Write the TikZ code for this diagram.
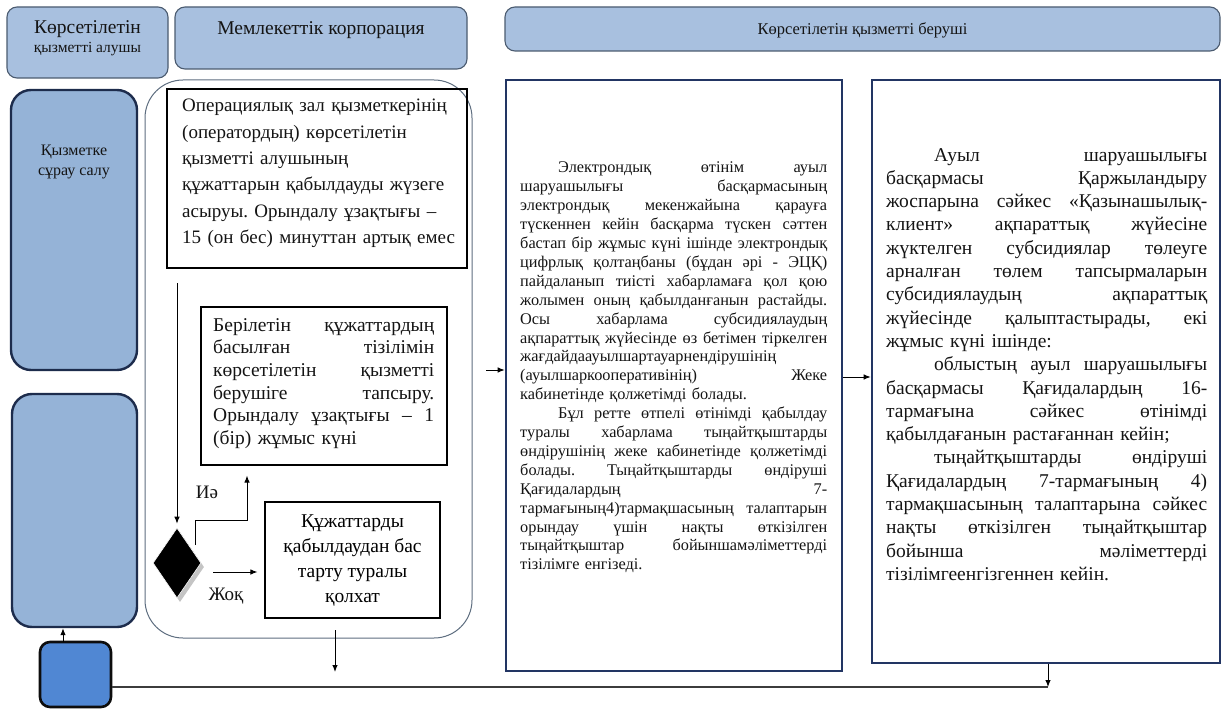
\documentclass[tikz,border=0pt]{standalone}
\usepackage{fontspec}
\setmainfont{Liberation Serif}
\usetikzlibrary{arrows.meta,calc,shapes.geometric}
\definecolor{hdrfill}{HTML}{A8C0DF}
\definecolor{hdrline}{HTML}{4B5B70}
\definecolor{lanefill}{HTML}{95B3D7}
\definecolor{laneline}{HTML}{1D2C4C}
\definecolor{sbfill}{HTML}{5087D3}
\definecolor{navy}{HTML}{223563}
\definecolor{contline}{HTML}{5E6E80}
\definecolor{shade}{HTML}{C4C4C4}
\definecolor{busline}{HTML}{3C3C3C}
\newcommand{\setfs}[2]{\fontsize{#1}{#2}\selectfont\parindent=0pt\frenchspacing\relax}
\newcommand{\jl}[2]{\noindent\hbox to #1{\spaceskip=0.25em plus 1fil minus 0.05em\relax #2}\par}
\newcommand{\jB}[1]{\jl{221pt}{#1}}
\newcommand{\jD}[1]{\jl{307pt}{#1}}
\newcommand{\jE}[1]{\jl{321pt}{#1}}
\newcommand{\pl}[1]{\noindent\hbox{#1}\par}
\tikzset{
  hdr/.style={draw=hdrline, fill=hdrfill, line width=1.1pt, rounded corners=10pt, inner sep=0pt},
  lanebox/.style={draw=laneline, fill=lanefill, line width=2.4pt, rounded corners=20pt, inner sep=0pt},
  smallbox/.style={draw=black!95, fill=sbfill, line width=2.6pt, rounded corners=10pt, inner sep=0pt},
  container/.style={draw=contline, line width=1pt, rounded corners=38pt, inner sep=0pt},
  stepbox/.style={draw=black, line width=1.1pt, inner sep=0pt},
  bigbox/.style={draw=navy, line width=2.6pt, inner sep=0pt},
  txt/.style={inner sep=0pt, text=black!92},
  para/.style={txt, anchor=north west, align=left},
  arr/.style={draw=black, line width=1pt, -{Latex[length=7pt,width=5.5pt]}},
  bus/.style={draw=busline, line width=1.4pt},
}
\begin{document}
\begin{tikzpicture}[x=1pt,y=-1pt]
\useasboundingbox (0,0) rectangle (1222,711);
\fill[white] (0,0) rectangle (1222,711);

% headers
\node[hdr, minimum width=161pt, minimum height=71pt] (H1) at (87.5,42.5) {};
\node[txt, font=\setfs{19.5}{20}] (h1a) at (87.5,29) {Көрсетілетін};
\node[txt, font=\setfs{15.5}{16}] (h1b) at (87.5,49) {қызметті алушы};
\node[hdr, minimum width=292pt, minimum height=62pt] (H2) at (321,38) {};
\node[txt, font=\setfs{19.5}{20}] (h2t) at (321,30) {Мемлекеттік корпорация};
\node[hdr, minimum width=715pt, minimum height=44pt] (H3) at (862.5,29) {};
\node[txt, font=\setfs{16.5}{17}] (h3t) at (862.5,30) {Көрсетілетін қызметті беруші};

% left lane
\node[lanebox, minimum width=126pt, minimum height=280pt] (L1) at (74,230) {};
\node[txt, align=center, font=\setfs{16}{20}] (l1t) at (74,162) {Қызметке\\сұрау салу};
\node[lanebox, minimum width=125pt, minimum height=233pt] (L2) at (74.5,510.5) {};
\node[smallbox, minimum width=71pt, minimum height=65pt] (SB) at (75.5,674.5) {};

% state corporation
\node[container, minimum width=327pt, minimum height=558pt] (corp) at (308.5,359) {};
\node[stepbox, minimum width=300pt, minimum height=179pt] (A) at (317,178.5) {};
\node[para, text width=285pt, font=\setfs{19}{26.4}] (At) at (182,99) {Операциялық зал қызметкерінің\\(оператордың) көрсетілетін\\қызметті алушының\\құжаттарын қабылдауды жүзеге\\асыруы. Орындалу ұзақтығы –\\15 (он бес) минуттан артық емес};

\node[stepbox, minimum width=246pt, minimum height=158pt] (B) at (324,386) {};
\node[para, text width=221pt, font=\setfs{19.5}{22.7}] (Bt) at (213,318) {%
\jB{Берілетін құжаттардың}
\jB{басылған тізілімін}
\jB{көрсетілетін қызметті}
\jB{берушіге тапсыру.}
\jB{Орындалу ұзақтығы – 1}
\pl{(бір) жұмыс күні}};

\node[stepbox, minimum width=175pt, minimum height=116pt, align=center, font=\setfs{19.5}{25}] (C) at (352.5,560) {Құжаттарды\\қабылдаудан бас\\тарту туралы\\қолхат};

\node[diamond, fill=shade, minimum width=48pt, minimum height=70pt, inner sep=0pt] (diash) at (180,567) {};
\node[diamond, fill=black, draw=white, line width=0.6pt, minimum width=48pt, minimum height=70pt, inner sep=0pt] (dia) at (177,563) {};
\node[txt, font=\setfs{19}{20}] (yes) at (207,492) {Иә};
\node[txt, font=\setfs{19}{20}] (no) at (226,596) {Жоқ};

% service provider
\node[bigbox, minimum width=336pt, minimum height=591pt] (D) at (674,375.5) {};
\node[para, text width=307pt, font=\setfs{16.3}{18.9}] (Dt) at (520,162) {%
\jD{\hspace*{38pt}Электрондық өтінім ауыл}
\jD{шаруашылығы басқармасының}
\jD{электрондық мекенжайына қарауға}
\jD{түскеннен кейін басқарма түскен сәттен}
\jD{бастап бір жұмыс күні ішінде электрондық}
\jD{цифрлық қолтаңбаны (бұдан әрі - ЭЦҚ)}
\jD{пайдаланып тиісті хабарламаға қол қою}
\jD{жолымен оның қабылданғанын растайды.}
\jD{Осы хабарлама субсидиялаудың}
\jD{ақпараттық жүйесінде өз бетімен тіркелген}
\pl{жағдайдаауылшартауарнендірушінің}
\jD{(ауылшаркооперативінің) Жеке}
\pl{кабинетінде қолжетімді болады.}
\jD{\hspace*{38pt}Бұл ретте өтпелі өтінімді қабылдау}
\jD{туралы хабарлама тыңайтқыштарды}
\jD{өндірушінің жеке кабинетінде қолжетімді}
\jD{болады. Тыңайтқыштарды өндіруші}
\jD{Қағидалардың 7-}
\jD{тармағының4)тармақшасының талаптарын}
\jD{орындау үшін нақты өткізілген}
\jD{тыңайтқыштар бойыншамәліметтерді}
\pl{тізілімге енгізеді.}};

\node[bigbox, minimum width=348pt, minimum height=583pt] (E) at (1046,371.5) {};
\node[para, text width=321pt, font=\setfs{19.5}{23.3}] (Et) at (886,148) {%
\jE{\hspace*{48pt}Ауыл шаруашылығы}
\jE{басқармасы Қаржыландыру}
\jE{жоспарына сәйкес «Қазынашылық-}
\jE{клиент» ақпараттық жүйесіне}
\jE{жүктелген субсидиялар төлеуге}
\jE{арналған төлем тапсырмаларын}
\jE{субсидиялаудың ақпараттық}
\jE{жүйесінде қалыптастырады, екі}
\pl{жұмыс күні ішінде:}
\jE{\hspace*{48pt}облыстың ауыл шаруашылығы}
\jE{басқармасы Қағидалардың 16-}
\jE{тармағына сәйкес өтінімді}
\pl{қабылдағанын растағаннан кейін;}
\jE{\hspace*{48pt}тыңайтқыштарды өндіруші}
\jE{Қағидалардың 7-тармағының 4)}
\jE{тармақшасының талаптарына сәйкес}
\jE{нақты өткізілген тыңайтқыштар}
\jE{бойынша мәліметтерді}
\pl{тізілімгеенгізгеннен кейін.}};

% connectors
\coordinate (aOut) at (177,283);
\draw[arr, shorten >=4pt] (aOut) -- (dia.north);
\coordinate (yesStart) at (195,545);
\coordinate (yesBend) at (247,520);
\draw[arr, shorten >=10pt] (yesStart) |- (yesBend) -- (yesBend |- B.south);
\coordinate (noStart) at (213,572);
\draw[arr, shorten >=7pt] (noStart) -- (noStart -| C.west);
\coordinate (cOut) at (335,630);
\coordinate (cEnd) at (335,672);
\draw[arr] (cOut) -- (cEnd);
\coordinate (toD) at (486,370);
\draw[arr] (toD) -- (toD -| D.west);
\coordinate (toE) at (843,377);
\draw[arr] (D.east |- toE) -- (toE -| E.west);
\coordinate (upArr) at (63,642);
\draw[arr] (upArr) -- (upArr |- L2.south);
\coordinate (busEnd) at (1048,687);
\draw[bus] (SB.east |- busEnd) -- (busEnd);
\draw[arr] (busEnd |- E.south) -- (busEnd);
\end{tikzpicture}
\end{document}
